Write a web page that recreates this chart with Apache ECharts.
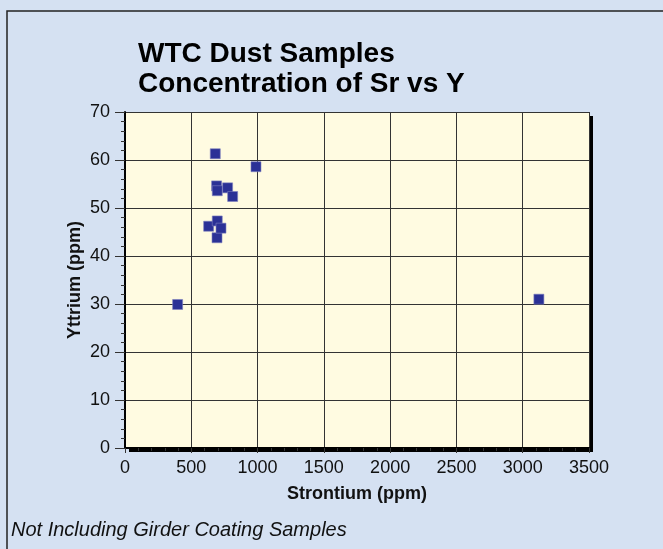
<!DOCTYPE html>
<html>
<head>
<meta charset="utf-8">
<script src="https://cdn.jsdelivr.net/npm/echarts@6/dist/echarts.min.js"></script>
<style>
html, body { margin: 0; padding: 0; background: #d5e1f2; }
#chart { width: 663px; height: 549px; }
</style>
</head>
<body>
<div id="chart"></div>
<script>
// sample values
const strontium = [397, 631, 681, 691, 694, 696, 696, 724, 774, 812, 988, 3122]
const yttrium = [29.9, 46.2, 61.3, 54.6, 43.8, 47.3, 53.6, 45.8, 54.2, 52.4, 58.6, 31.0]
const xRange = [0, 3500, 500]
const yRange = [0, 70, 10]

const chart = echarts.init(document.getElementById('chart'))

const font = '"Liberation Sans", Arial, sans-serif'

const option = {
  backgroundColor: '#d5e1f2',
  animation: false,
  title: {
    text: 'WTC Dust Samples\nConcentration of Sr vs Y',
    left: 133,
    top: 34,
    textStyle: {
      fontFamily: font,
      fontSize: 28,
      fontWeight: 'bold',
      color: '#000',
      lineHeight: 30,
      textShadowColor: '#fff',
      textShadowOffsetX: 2,
      textShadowOffsetY: 2,
      textShadowBlur: 0
    }
  },
  grid: {
    left: 125,
    top: 112,
    right: 74,
    bottom: 101,
    show: true,
    backgroundColor: '#fffbe1',
    borderWidth: 0,
    shadowColor: '#000',
    shadowBlur: 0,
    shadowOffsetX: 4,
    shadowOffsetY: 4
  },
  xAxis: {
    type: 'value',
    min: xRange[0],
    max: xRange[1],
    interval: xRange[2],
    name: 'Strontium (ppm)',
    nameLocation: 'middle',
    nameGap: 37,
    nameMoveOverlap: false,
    nameTextStyle: { fontFamily: font, fontSize: 18, fontWeight: 'bold', color: '#111' },
    axisLine: { show: true, lineStyle: { color: '#000', width: 2 } },
    axisTick: { show: true, length: 5, lineStyle: { color: '#333' } },
    minorTick: { show: true, splitNumber: 5, length: 3, lineStyle: { color: '#333' } },
    axisLabel: { fontFamily: font, fontSize: 18, color: '#111', margin: 11, formatter: v => String(v) },
    splitLine: { show: true, lineStyle: { color: '#333', width: 1 } }
  },
  yAxis: {
    type: 'value',
    min: yRange[0],
    max: yRange[1],
    interval: yRange[2],
    name: 'Yttrium (ppm)',
    nameLocation: 'middle',
    nameGap: 41,
    nameMoveOverlap: false,
    nameTextStyle: { fontFamily: font, fontSize: 18, fontWeight: 'bold', color: '#111' },
    axisLine: { show: true, lineStyle: { color: '#000', width: 2 } },
    axisTick: { show: true, length: 10, lineStyle: { color: '#333' } },
    minorTick: { show: true, splitNumber: 5, length: 4, lineStyle: { color: '#333' } },
    axisLabel: { fontFamily: font, fontSize: 18, color: '#111', margin: 15, formatter: v => String(v) },
    splitLine: { show: true, lineStyle: { color: '#333', width: 1 } }
  },
  series: [
    {
      type: 'scatter',
      symbol: 'rect',
      symbolSize: 10,
      itemStyle: { color: '#2b3196', borderColor: '#7d80c0', borderWidth: 0.6, opacity: 1 },
      data: strontium.map((x, i) => [x, yttrium[i]])
    }
  ],
  graphic: [
    {
      type: 'text',
      left: 11,
      top: 520,
      style: {
        text: 'Not Including Girder Coating Samples',
        font: 'italic 20px ' + font,
        fill: '#111'
      }
    },
    {
      type: 'rect',
      z: 100,
      shape: { x: 7, y: 11, width: 700, height: 600 },
      style: { fill: 'none', stroke: '#222', lineWidth: 1.5 }
    }
  ]
}

chart.setOption(option)
</script>
</body>
</html>
